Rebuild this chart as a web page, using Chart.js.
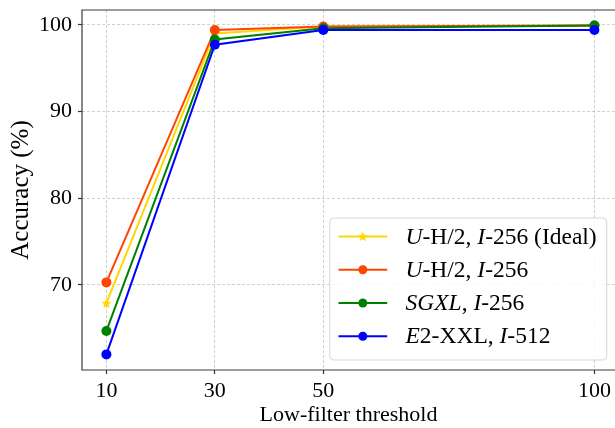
<!DOCTYPE html>
<html>
<head>
<meta charset="utf-8">
<script src="https://cdn.jsdelivr.net/npm/chart.js@4/dist/chart.umd.min.js"></script>
<style>
  html, body { margin: 0; padding: 0; background: #fff; overflow: hidden; }
  #wrap { width: 615px; height: 428px; }
</style>
</head>
<body>
<div id="wrap"><canvas id="c" width="615" height="428"></canvas></div>
<script>
// Low-filter threshold values on the x axis
const thresholds = [10, 30, 50, 100];
// Accuracy (%) per model configuration
const idealUH2 = [67.9, 99.0, 99.8, 99.9];
const uH2 = [70.3, 99.4, 99.8, 99.9];
const sgxl = [64.7, 98.3, 99.6, 99.9];
const e2xxl = [62.0, 97.7, 99.4, 99.4];
// Tick values
const xTicks = [10, 30, 50, 100];
const yTicks = [70, 80, 90, 100];
// Legend labels as [text, italic] runs
const labelIdeal = [["U", true], ["-H/2, ", false], ["I", true], ["-256 (Ideal)", false]];
const labelUH2 = [["U", true], ["-H/2, ", false], ["I", true], ["-256", false]];
const labelSGXL = [["SGXL", true], [", ", false], ["I", true], ["-256", false]];
const labelE2 = [["E", true], ["2-XXL, ", false], ["I", true], ["-512", false]];

const FONT = "'Liberation Serif', 'Times New Roman', serif";
const TICK_FS = 22;
const XTITLE_FS = 22;
const YTITLE_FS = 25;
const LEG_FS = 23.5;

// filled five-point star used as a marker
function makeStar(color, R) {
  const r = R * 0.42;
  const size = Math.ceil(R * 2 + 2);
  const cv = document.createElement('canvas');
  cv.width = size; cv.height = size;
  const g = cv.getContext('2d');
  g.translate(size / 2, size / 2 + R * 0.08);
  g.beginPath();
  for (let i = 0; i < 10; i++) {
    const rad = (i % 2 === 0) ? R : r;
    const a = -Math.PI / 2 + i * Math.PI / 5;
    const px = rad * Math.cos(a), py = rad * Math.sin(a);
    if (i === 0) g.moveTo(px, py); else g.lineTo(px, py);
  }
  g.closePath();
  g.fillStyle = color;
  g.fill();
  return cv;
}
const starGold = makeStar('#FFD700', 5.4);

function pts(ys) { return thresholds.map((x, i) => ({ x: x, y: ys[i] })); }

function ds(label, runs, ys, color, style, order) {
  return {
    label: label,
    runs: runs,
    data: pts(ys),
    borderColor: color,
    backgroundColor: color,
    pointBackgroundColor: color,
    pointBorderColor: color,
    pointBorderWidth: 0,
    pointRadius: 5,
    pointHoverRadius: 5,
    pointStyle: style,
    borderWidth: 2,
    tension: 0,
    order: order
  };
}

const datasets = [
  ds('U-H/2, I-256 (Ideal)', labelIdeal, idealUH2, '#FFD700', starGold, 4),
  ds('U-H/2, I-256', labelUH2, uH2, '#FF4500', 'circle', 3),
  ds('SGXL, I-256', labelSGXL, sgxl, '#008000', 'circle', 2),
  ds('E2-XXL, I-512', labelE2, e2xxl, '#0000FF', 'circle', 1)
];

// axes frame: left, bottom and top edges
const spines = {
  id: 'spines',
  afterDatasetsDraw(chart) {
    const { ctx, chartArea: a } = chart;
    ctx.save();
    ctx.strokeStyle = '#3a3a3a';
    ctx.lineWidth = 1.2;
    ctx.beginPath();
    ctx.moveTo(a.right, a.top); ctx.lineTo(a.left, a.top);
    ctx.lineTo(a.left, a.bottom); ctx.lineTo(a.right, a.bottom);
    ctx.stroke();
    ctx.restore();
  }
};

// legend box with mixed italic / upright label runs
const richLegend = {
  id: 'richLegend',
  afterDraw(chart) {
    const { ctx, chartArea: a } = chart;
    const sets = chart.data.datasets;
    ctx.save();
    const fontN = LEG_FS + 'px ' + FONT;
    const fontI = 'italic ' + LEG_FS + 'px ' + FONT;
    let maxW = 0;
    sets.forEach(d => {
      let w = 0;
      d.runs.forEach(([t, it]) => { ctx.font = it ? fontI : fontN; w += ctx.measureText(t).width; });
      maxW = Math.max(maxW, w);
    });
    const rowH = 33.3;
    const textOff = 75.7;
    const boxW = textOff + maxW + 10;
    const boxH = 142;
    const right = a.right - 8.3;
    const bottom = a.bottom - 10;
    const left = right - boxW;
    const top = bottom - boxH;
    // frame
    const rr = 4;
    ctx.beginPath();
    ctx.moveTo(left + rr, top);
    ctx.lineTo(left + boxW - rr, top);
    ctx.arcTo(left + boxW, top, left + boxW, top + rr, rr);
    ctx.lineTo(left + boxW, top + boxH - rr);
    ctx.arcTo(left + boxW, top + boxH, left + boxW - rr, top + boxH, rr);
    ctx.lineTo(left + rr, top + boxH);
    ctx.arcTo(left, top + boxH, left, top + boxH - rr, rr);
    ctx.lineTo(left, top + rr);
    ctx.arcTo(left, top, left + rr, top, rr);
    ctx.closePath();
    ctx.fillStyle = 'rgba(255,255,255,0.85)';
    ctx.fill();
    ctx.strokeStyle = '#d6d6d6';
    ctx.lineWidth = 1;
    ctx.stroke();
    sets.forEach((d, i) => {
      const cy = top + 18.4 + i * rowH;
      // handle line
      ctx.strokeStyle = d.borderColor;
      ctx.lineWidth = 2;
      ctx.beginPath();
      ctx.moveTo(left + 8.7, cy);
      ctx.lineTo(left + 57.4, cy);
      ctx.stroke();
      const mx = left + 33;
      if (d.pointStyle === 'circle') {
        ctx.fillStyle = d.pointBackgroundColor;
        ctx.beginPath();
        ctx.arc(mx, cy, 4.5, 0, Math.PI * 2);
        ctx.fill();
      } else {
        const img = d.pointStyle;
        ctx.drawImage(img, mx - img.width / 2, cy - img.height / 2);
      }
      // label runs
      ctx.fillStyle = '#000';
      ctx.textBaseline = 'middle';
      ctx.textAlign = 'left';
      let x = left + textOff;
      d.runs.forEach(([t, it]) => {
        ctx.font = it ? fontI : fontN;
        ctx.fillText(t, x, cy + 1);
        x += ctx.measureText(t).width;
      });
    });
    ctx.restore();
  }
};

const gridColor = 'rgba(176,176,176,0.75)';

new Chart(document.getElementById('c'), {
  type: 'line',
  data: { datasets: datasets },
  options: {
    responsive: false,
    animation: false,
    events: [],
    layout: { autoPadding: false, padding: { top: 10, left: 0, right: 0, bottom: 0 } },
    plugins: { legend: { display: false }, tooltip: { enabled: false } },
    scales: {
      x: {
        type: 'linear',
        min: 5.5,
        max: 103.8,
        afterBuildTicks: s => { s.ticks = xTicks.map(v => ({ value: v })); },
        afterFit: s => { s.height = 58; s.paddingLeft = 0; s.paddingRight = 0; },
        grid: {
          color: gridColor, lineWidth: 0.8,
          tickColor: '#333', tickLength: 4, tickWidth: 1.2, tickBorderDash: []
        },
        border: { display: false, dash: [3, 2] },
        ticks: { color: '#000', font: { family: FONT, size: TICK_FS }, padding: 4, maxRotation: 0, autoSkip: false },
        title: { display: true, text: 'Low-filter threshold', color: '#000', font: { family: FONT, size: XTITLE_FS }, padding: { top: 0, bottom: 0 } }
      },
      y: {
        type: 'linear',
        min: 60.2,
        max: 101.7,
        afterBuildTicks: s => { s.ticks = yTicks.map(v => ({ value: v })); },
        afterFit: s => { s.width = 82; s.paddingTop = 0; s.paddingBottom = 0; },
        grid: {
          color: gridColor, lineWidth: 0.8,
          tickColor: '#333', tickLength: 4, tickWidth: 1.2, tickBorderDash: []
        },
        border: { display: false, dash: [3, 2] },
        ticks: { color: '#000', font: { family: FONT, size: TICK_FS }, padding: 6, autoSkip: false },
        title: { display: true, text: 'Accuracy (%)', color: '#000', font: { family: FONT, size: YTITLE_FS }, padding: { top: 6, bottom: 0 } }
      }
    }
  },
  plugins: [spines, richLegend]
});
</script>
</body>
</html>
